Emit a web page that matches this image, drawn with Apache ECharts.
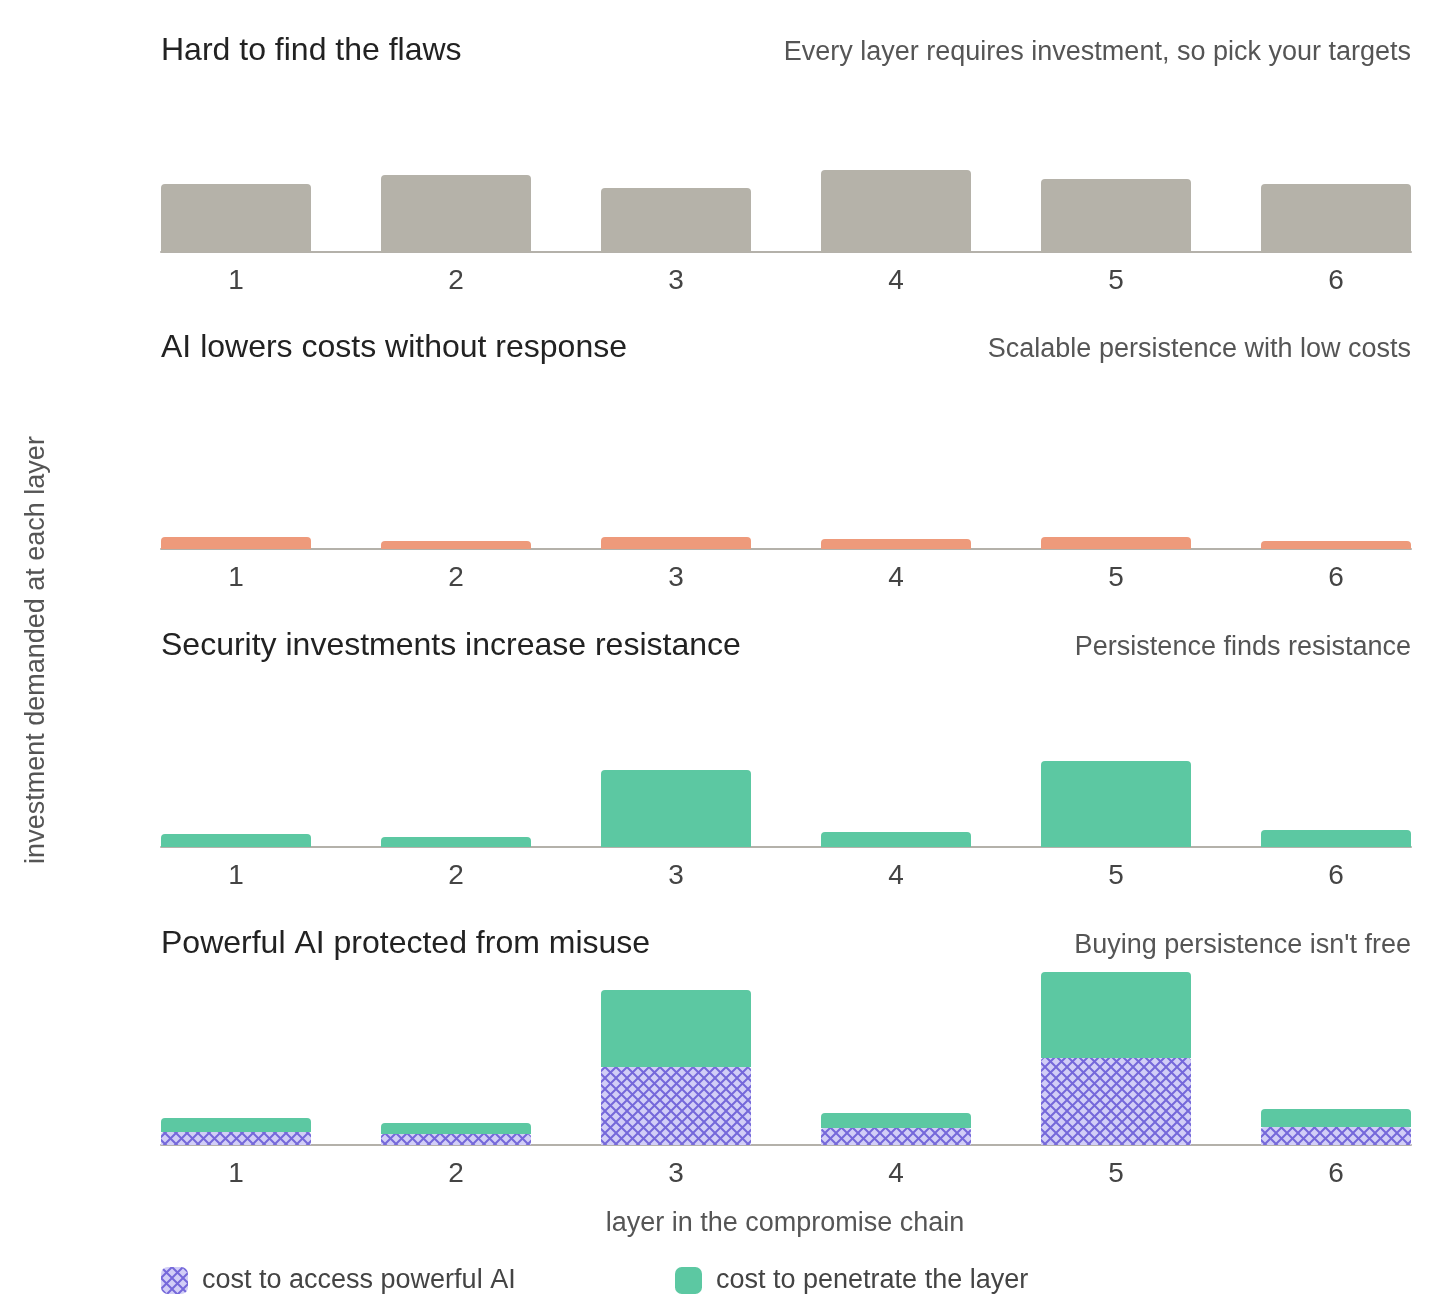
<!DOCTYPE html>
<html>
<head>
<meta charset="utf-8">
<script src="https://cdn.jsdelivr.net/npm/echarts@6/dist/echarts.min.js"></script>
<style>
  html, body { margin: 0; padding: 0; background: #fff; }
  #chart { width: 1456px; height: 1309px; }
</style>
</head>
<body>
<div id="chart"></div>
<script>
// Data
let layers = ['1', '2', '3', '4', '5', '6'];
let panelTitles = [
	'Hard to find the flaws',
	'AI lowers costs without response',
	'Security investments increase resistance',
	'Powerful AI protected from misuse'
];
let panelNotes = [
	'Every layer requires investment, so pick your targets',
	'Scalable persistence with low costs',
	'Persistence finds resistance',
	"Buying persistence isn't free"
];
let flawCost = [34, 38.5, 32, 41, 36.5, 34];
let aiCost = [6, 4, 6, 5, 6, 4];
let resistCost = [6.5, 5, 38.5, 7.5, 43, 8.5];
let accessCost = [6.5, 5.5, 39, 8.5, 43.5, 9];
let penetrateCost = [7, 5.5, 38.5, 7.5, 43, 9];

let accessName = 'cost to access powerful AI';
let penetrateName = 'cost to penetrate the layer';
let yName = 'investment demanded at each layer';
let xName = 'layer in the compromise chain';

// Layout
let font = "'Liberation Sans', Arial, sans-serif";
let baselines = [252, 549, 847, 1145];
let gridHeight = 180;
let barColors = { gray: '#b5b2a9', orange: '#ee9a7b', green: '#5cc8a2' };

function hatchPattern() {
	// light lilac fill with a diagonal cross hatch
	let s = 11;
	let c = document.createElement('canvas');
	c.width = s;
	c.height = s;
	let cx = c.getContext('2d');
	cx.fillStyle = '#d2cef7';
	cx.fillRect(0, 0, s, s);
	cx.strokeStyle = '#7568da';
	cx.lineWidth = 2;
	cx.beginPath();
	cx.moveTo(-1, -1); cx.lineTo(s + 1, s + 1);
	cx.moveTo(s + 1, -1); cx.lineTo(-1, s + 1);
	cx.stroke();
	return c;
}
let hatch = { image: hatchPattern(), repeat: 'repeat' };

let grids = [], xAxes = [], yAxes = [], graphics = [];
for (let i = 0; i < 4; i++) {
	let top = baselines[i] - gridHeight;
	// grid for the bars: six bands of 220px, bars 150px wide
	grids.push({ left: 126, right: 10, top: top, height: gridHeight });
	// grid only for the baseline, which runs from the first bar edge to the last
	grids.push({ left: 161, right: 45, top: top, height: gridHeight });

	xAxes.push({
		type: 'category', gridIndex: 2 * i, data: layers,
		axisLine: { show: false },
		axisTick: { show: false },
		axisLabel: { fontSize: 28, color: '#444', margin: 15, fontFamily: font }
	});
	xAxes.push({
		type: 'value', gridIndex: 2 * i + 1, min: 0, max: 1,
		splitLine: { show: false },
		axisTick: { show: false },
		axisLabel: { show: false },
		axisLine: { show: true, onZero: false, lineStyle: { color: '#b4b1aa', width: 2 } }
	});
	yAxes.push({ type: 'value', gridIndex: 2 * i, min: 0, max: 90, show: false });
	yAxes.push({ type: 'value', gridIndex: 2 * i + 1, min: 0, max: 1, show: false });

	graphics.push({
		type: 'text', x: 161, y: baselines[i] - 201,
		style: { text: panelTitles[i], font: '32px ' + font, fill: '#222', textVerticalAlign: 'middle' }
	});
	graphics.push({
		type: 'text', x: 1411, y: baselines[i] - 199,
		style: { text: panelNotes[i], font: '27px ' + font, fill: '#555', align: 'right', textVerticalAlign: 'middle' }
	});
}

graphics.push({
	type: 'text', x: 37, y: 650, rotation: Math.PI / 2,
	style: { text: yName, font: '27px ' + font, fill: '#555', align: 'center', textVerticalAlign: 'middle' }
});
graphics.push({
	type: 'text', x: 785, y: 1224,
	style: { text: xName, font: '27px ' + font, fill: '#555', align: 'center', textVerticalAlign: 'middle' }
});

function barSeries(name, values, idx, color, stack, radius) {
	return {
		name: name, type: 'bar', xAxisIndex: 2 * idx, yAxisIndex: 2 * idx,
		data: values, barWidth: 150, stack: stack,
		itemStyle: { color: color, borderRadius: radius },
		emphasis: { disabled: true },
		silent: true
	};
}

let legendText = { fontSize: 27, color: '#444', fontFamily: font, padding: [0, 0, 0, 9] };

let option = {
	animation: false,
	backgroundColor: '#fff',
	grid: grids,
	xAxis: xAxes,
	yAxis: yAxes,
	graphic: graphics,
	legend: [
		{
			data: [accessName], left: 156, top: 1262, itemWidth: 27, itemHeight: 27,
			icon: 'roundRect', textStyle: legendText
		},
		{
			data: [penetrateName], left: 670, top: 1262, itemWidth: 27, itemHeight: 27,
			icon: 'roundRect', textStyle: legendText
		}
	],
	series: [
		barSeries('flaws', flawCost, 0, barColors.gray, null, [4, 4, 0, 0]),
		barSeries('ai', aiCost, 1, barColors.orange, null, [4, 4, 0, 0]),
		barSeries(penetrateName, resistCost, 2, barColors.green, null, [4, 4, 0, 0]),
		barSeries(accessName, accessCost, 3, hatch, 'total', [3, 3, 0, 0]),
		barSeries(penetrateName, penetrateCost, 3, barColors.green, 'total', [4, 4, 0, 0])
	]
};

let chart = echarts.init(document.getElementById('chart'));
chart.setOption(option);
</script>
</body>
</html>
